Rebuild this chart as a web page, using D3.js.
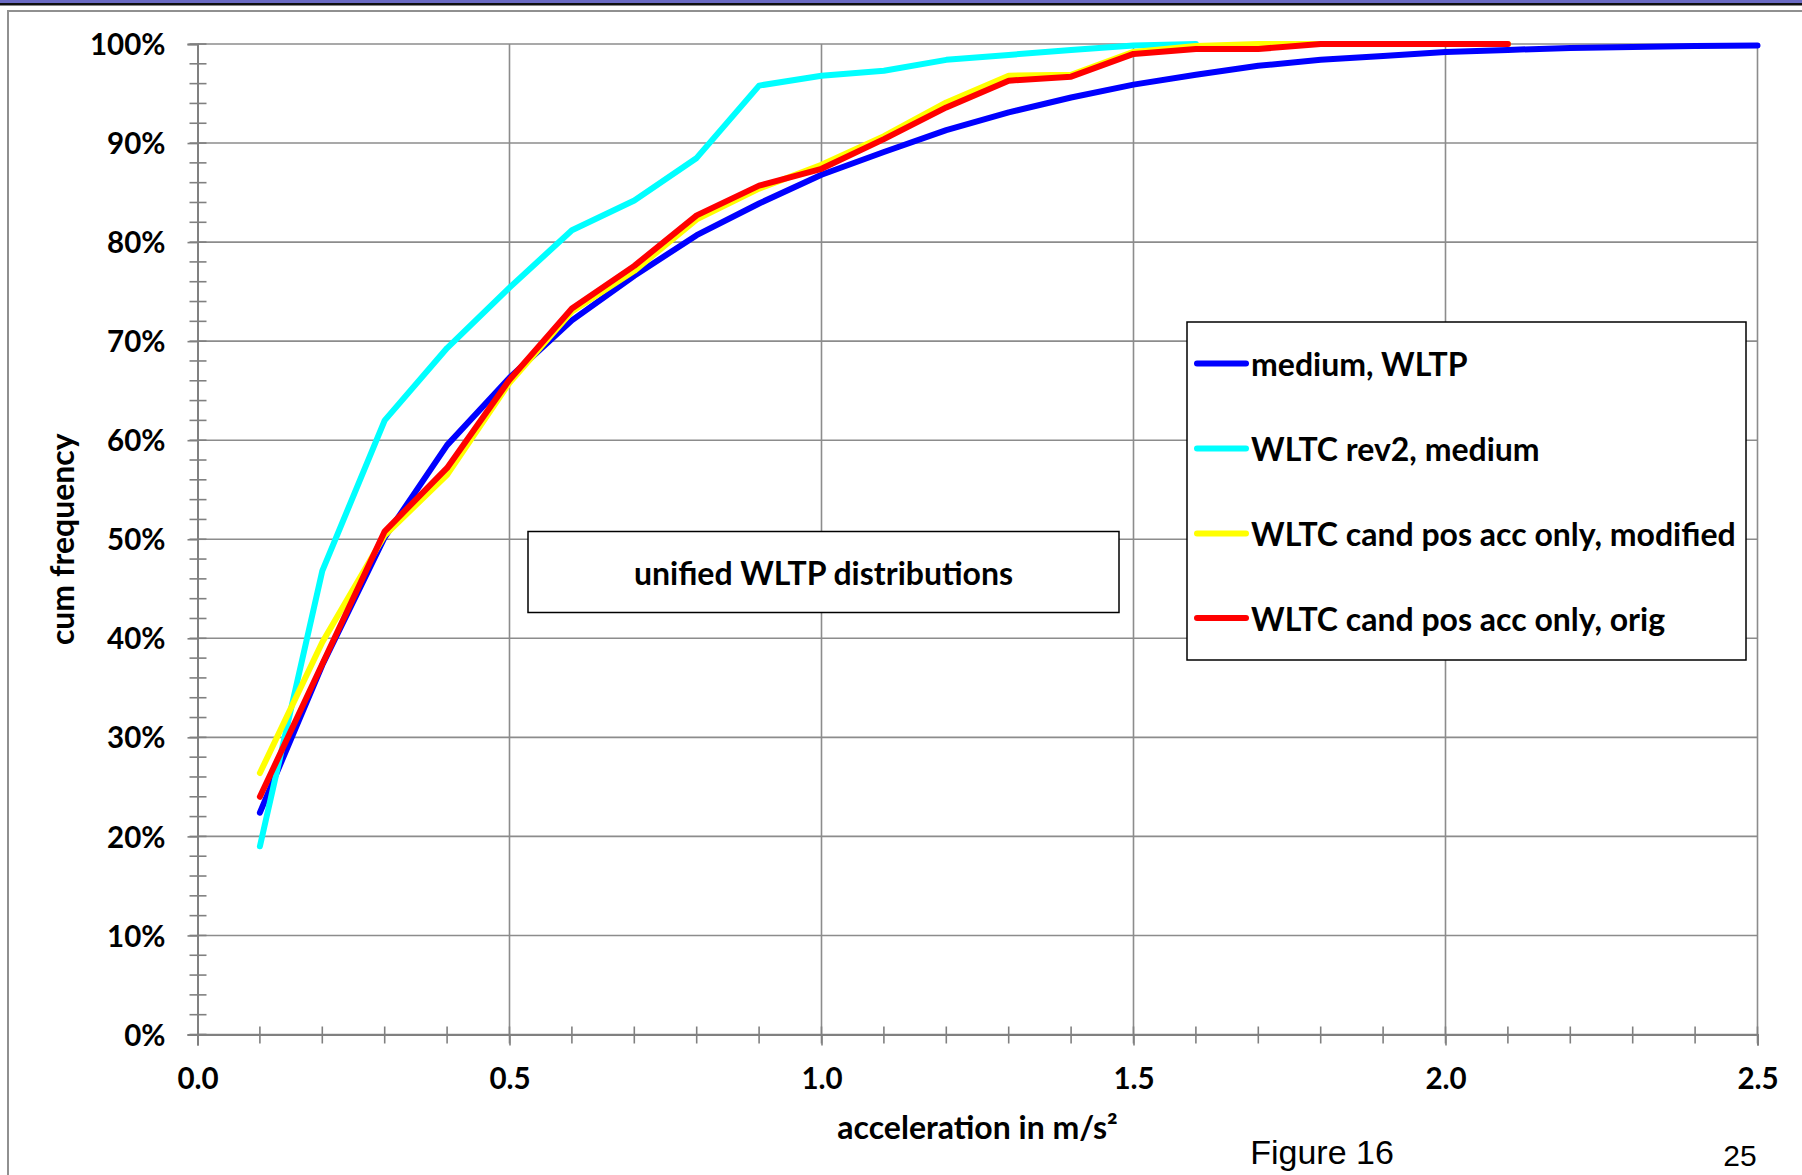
<!DOCTYPE html>
<html lang="en">
<head>
  <meta charset="UTF-8">
  <title>unified WLTP distributions</title>
  <script src="https://d3js.org/d3.v7.min.js"></script>
  <style>
    body { margin: 0; background: #fff; }
    text { font-family: Lato, "Open Sans", sans-serif; font-weight: bold; fill: #000; }
    .grid line { stroke: #8c8c8c; stroke-width: 1.6px; }
    .tick-mark { stroke: #808080; stroke-width: 1.6px; }
    .series { fill: none; stroke-width: 6px; stroke-linejoin: round; stroke-linecap: round; }
  </style>
</head>
<body>
  <div id="chart"></div>
  <script>
    const width = 1802, height = 1175;

    // acceleration classes (m/s²)
    const accel = [0.1, 0.2, 0.3, 0.4, 0.5, 0.6, 0.7, 0.8, 0.9, 1.0, 1.1, 1.2, 1.3,
                   1.4, 1.5, 1.6, 1.7, 1.8, 1.9, 2.0, 2.1, 2.2, 2.3, 2.4, 2.5];

    // cumulative frequencies in %
    const mediumWLTP = [22.4, 37.3, 50.2, 59.5, 66.3, 72.1, 76.6, 80.7, 83.9, 86.8, 89.1, 91.3, 93.1,
                        94.6, 95.9, 96.9, 97.8, 98.4, 98.8, 99.2, 99.4, 99.6, 99.7, 99.8, 99.85];
    const rev2Medium = [19.0, 46.8, 62.0, 69.3, 75.4, 81.2, 84.2, 88.5, 95.8, 96.8, 97.3, 98.4, 98.9,
                        99.4, 99.85, 100];
    const candModified = [26.4, 39.6, 50.4, 56.5, 65.8, 73.0, 77.1, 82.3, 85.4, 87.8, 90.7, 94.1, 96.8,
                          96.9, 99.2, 99.8, 100, 100, 100, 100, 100];
    const candOrig = [24.0, 37.4, 50.8, 57.2, 66.1, 73.3, 77.6, 82.7, 85.7, 87.4, 90.4, 93.6, 96.3,
                      96.7, 99.0, 99.5, 99.5, 100, 100, 100, 100];

    const seriesNames = ["medium, WLTP", "WLTC rev2, medium", "WLTC cand pos acc only, modified", "WLTC cand pos acc only, orig"];
    const seriesColors = ["#0000ff", "#00ffff", "#ffff00", "#ff0000"];
    const seriesValues = [mediumWLTP, rev2Medium, candModified, candOrig];

    const xTicks = [0, 0.5, 1.0, 1.5, 2.0, 2.5];
    const yTicks = [0, 10, 20, 30, 40, 50, 60, 70, 80, 90, 100];

    const plot = { left: 197.5, right: 1757.5, top: 44, bottom: 1034.5 };

    const svg = d3.select("#chart").append("svg")
      .attr("width", width)
      .attr("height", height);

    // slide decoration at the top and chart frame
    svg.append("rect").attr("x", 0).attr("y", 0).attr("width", width).attr("height", 3).attr("fill", "#6b6bc4");
    svg.append("rect").attr("x", 0).attr("y", 3).attr("width", width).attr("height", 2.5).attr("fill", "#111");
    svg.append("path")
      .attr("d", `M8,${height} L8,11 L${width},11`)
      .attr("fill", "none").attr("stroke", "#909090").attr("stroke-width", 2);

    const x = d3.scaleLinear().domain([0, 2.5]).range([plot.left, plot.right]);
    const y = d3.scaleLinear().domain([0, 100]).range([plot.bottom, plot.top]);

    // grid
    const grid = svg.append("g").attr("class", "grid");
    grid.selectAll(".h").data(yTicks).enter().append("line")
      .attr("x1", plot.left).attr("x2", plot.right)
      .attr("y1", d => y(d)).attr("y2", d => y(d));
    grid.selectAll(".v").data(xTicks.slice(1)).enter().append("line")
      .attr("x1", d => x(d)).attr("x2", d => x(d))
      .attr("y1", plot.top).attr("y2", plot.bottom);

    // y axis with minor ticks every 2 %
    const yAxis = svg.append("g").attr("transform", `translate(${plot.left},0)`)
      .call(d3.axisLeft(y).tickValues(yTicks).tickSize(10).tickFormat(d => d + "%"));
    yAxis.select(".domain").attr("stroke", "#808080").attr("stroke-width", 2);
    yAxis.selectAll(".tick line").attr("stroke", "#808080").attr("stroke-width", 1.6);
    yAxis.selectAll(".tick text").attr("x", -32).attr("dy", "0.36em")
      .style("font-size", "29.5px");
    svg.append("g").selectAll("line").data(d3.range(0, 101, 2)).enter().append("line")
      .attr("class", "tick-mark")
      .attr("x1", plot.left - 8).attr("x2", plot.left + 9)
      .attr("y1", d => y(d)).attr("y2", d => y(d));

    // x axis with minor ticks every 0.1
    const xAxis = svg.append("g").attr("transform", `translate(0,${plot.bottom})`)
      .call(d3.axisBottom(x).tickValues(xTicks).tickSize(11).tickFormat(d3.format(".1f")));
    xAxis.select(".domain").attr("stroke", "#808080").attr("stroke-width", 2);
    xAxis.selectAll(".tick line").attr("stroke", "#808080").attr("stroke-width", 1.6);
    xAxis.selectAll(".tick text").attr("y", 44).attr("dy", "0.36em")
      .style("font-size", "29.5px");
    svg.append("g").selectAll("line").data(d3.range(1, 26).map(i => i / 10)).enter().append("line")
      .attr("class", "tick-mark")
      .attr("x1", d => x(d)).attr("x2", d => x(d))
      .attr("y1", plot.bottom - 8).attr("y2", plot.bottom + 9);

    // axis titles
    svg.append("text")
      .attr("x", (plot.left + plot.right) / 2).attr("y", 1139)
      .attr("text-anchor", "middle").style("font-size", "32px")
      .text("acceleration in m/s²");
    svg.append("text")
      .attr("transform", `translate(74,${(plot.top + plot.bottom) / 2}) rotate(-90)`)
      .attr("text-anchor", "middle").style("font-size", "32px")
      .text("cum frequency");

    // series
    const line = d3.line().x(d => x(d[0])).y(d => y(d[1]));
    seriesValues.forEach((vals, i) => {
      svg.append("path")
        .datum(vals.map((v, k) => [accel[k], v]))
        .attr("class", "series")
        .attr("stroke", seriesColors[i])
        .attr("d", line);
    });

    // annotation box
    const note = svg.append("g");
    note.append("rect").attr("x", 528).attr("y", 531.5).attr("width", 591).attr("height", 81)
      .attr("fill", "#fff").attr("stroke", "#000").attr("stroke-width", 1.5);
    note.append("text").attr("x", 823.5).attr("y", 573).attr("dy", "0.36em")
      .attr("text-anchor", "middle").style("font-size", "32px")
      .text("unified WLTP distributions");

    // legend
    const legend = svg.append("g");
    legend.append("rect").attr("x", 1187).attr("y", 322).attr("width", 559).attr("height", 338)
      .attr("fill", "#fff").attr("stroke", "#000").attr("stroke-width", 1.5);
    const rowY = [363.5, 448.5, 533.5, 618];
    seriesNames.forEach((name, i) => {
      legend.append("line")
        .attr("x1", 1197).attr("x2", 1246).attr("y1", rowY[i]).attr("y2", rowY[i])
        .attr("stroke", seriesColors[i]).attr("stroke-width", 6).attr("stroke-linecap", "round");
      legend.append("text").attr("x", 1251).attr("y", rowY[i] + 1).attr("dy", "0.36em")
        .style("font-size", "32px").text(name);
    });

    // slide footer text
    svg.append("text").attr("x", 1322).attr("y", 1164).attr("text-anchor", "middle")
      .style("font-family", "'Liberation Sans', Arial, sans-serif").style("font-weight", "normal")
      .style("font-size", "34px").text("Figure 16");
    svg.append("text").attr("x", 1740).attr("y", 1166).attr("text-anchor", "middle")
      .style("font-family", "'Liberation Sans', Arial, sans-serif").style("font-weight", "normal")
      .style("font-size", "30px").text("25");
  </script>
</body>
</html>
